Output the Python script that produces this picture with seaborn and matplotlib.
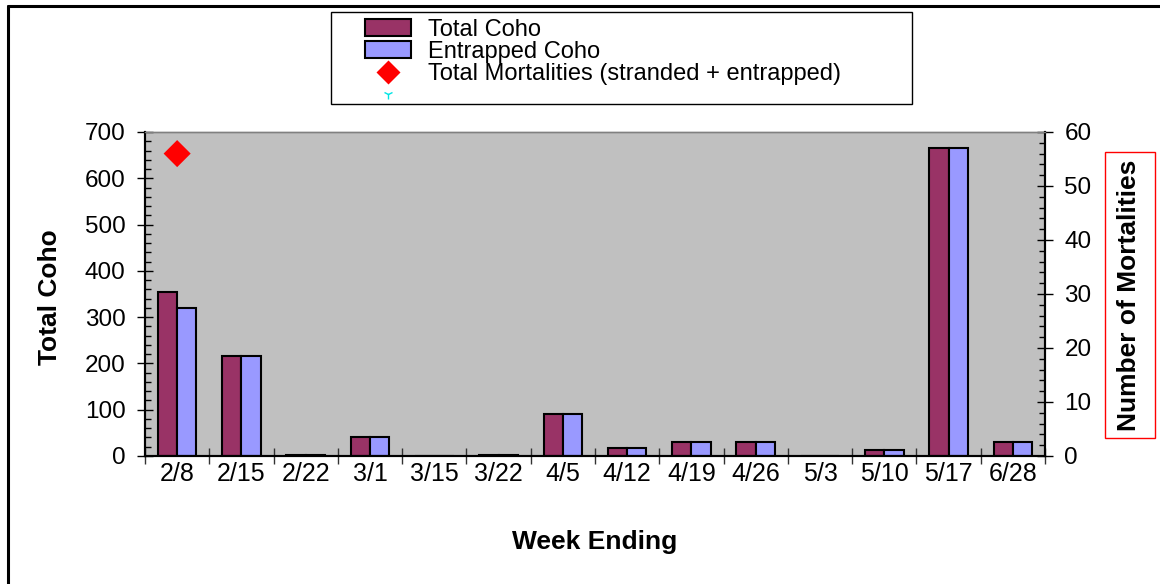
import numpy as np
import pandas as pd
import seaborn as sns
import matplotlib.pyplot as plt
from matplotlib.lines import Line2D
from matplotlib.patches import Patch, Rectangle
from matplotlib.ticker import MultipleLocator

weeks = ['2/8', '2/15', '2/22', '3/1', '3/15', '3/22', '4/5', '4/12', '4/19',
         '4/26', '5/3', '5/10', '5/17', '6/28']
total_coho = [354, 216, 3, 42, 0, 2, 91, 17, 30, 30, 0, 12, 665, 30]
entrapped_coho = [320, 216, 3, 42, 0, 2, 91, 17, 30, 30, 0, 12, 665, 30]
mortalities = [56, np.nan, np.nan, np.nan, np.nan, np.nan, np.nan, np.nan,
               np.nan, np.nan, np.nan, np.nan, np.nan, np.nan]

sns.set_theme(style="white", rc={'text.color': 'black', 'axes.labelcolor': 'black',
                                 'xtick.color': 'black', 'ytick.color': 'black'})
plt.rcParams['font.family'] = ['Liberation Sans', 'DejaVu Sans']

bars = pd.DataFrame({
    'Week': weeks * 2,
    'Count': total_coho + entrapped_coho,
    'Series': ['Total Coho'] * len(weeks) + ['Entrapped Coho'] * len(weeks),
})
morts = pd.DataFrame({'pos': np.arange(len(weeks)), 'Mortalities': mortalities})

colors = {'Total Coho': '#993366', 'Entrapped Coho': '#9999FF'}

fig = plt.figure(figsize=(11.6, 5.84), dpi=100)
ax = fig.add_axes([145 / 1160, 128 / 584, 900 / 1160, 324 / 584])
ax.set_facecolor('#C0C0C0')

sns.barplot(data=bars, x='Week', y='Count', hue='Series', palette=colors,
            width=0.6, gap=0, saturation=1, edgecolor='black', linewidth=1.5,
            legend=False, ax=ax)

ax2 = ax.twinx()
sns.scatterplot(data=morts, x='pos', y='Mortalities', marker='D', s=190,
                color='#FF0000', edgecolor='none', legend=False, ax=ax2)

# left axis
ax.set_ylim(0, 700)
ax.yaxis.set_major_locator(MultipleLocator(100))
ax.yaxis.set_minor_locator(MultipleLocator(20))
ax.tick_params(axis='y', which='major', direction='inout', length=12, width=1,
               pad=8, labelsize=17.5, left=True)
ax.tick_params(axis='y', which='minor', direction='in', length=4, width=1, left=True)

# right axis
ax2.set_ylim(0, 60)
ax2.yaxis.set_major_locator(MultipleLocator(10))
ax2.yaxis.set_minor_locator(MultipleLocator(2))
ax2.tick_params(axis='y', which='major', direction='inout', length=12, width=1,
                pad=8, labelsize=17.5, right=True)
ax2.tick_params(axis='y', which='minor', direction='in', length=4, width=1, right=True)

# x axis: ticks between categories, labels at centres
ax.set_xlim(-0.5, len(weeks) - 0.5)
ax.set_xticks(np.arange(-0.5, len(weeks), 1))
ax.set_xticklabels([])
ax.set_xticks(np.arange(len(weeks)), minor=True)
ax.set_xticklabels(weeks, minor=True)
ax.tick_params(axis='x', which='major', direction='inout', length=12, width=1,
               bottom=True, color='#333333')
ax.tick_params(axis='x', which='minor', length=0, pad=4, labelsize=18)
ax2.set_xlim(-0.5, len(weeks) - 0.5)
ax2.set_xlabel('')

for a in (ax, ax2):
    for s in a.spines.values():
        s.set_visible(True)
        s.set_color('black')
        s.set_linewidth(1.5)
    a.spines['top'].set_color('#808080')
    a.spines['top'].set_linewidth(1)
    a.grid(False)

ax.set_xlabel('Week Ending', fontsize=19, fontweight='bold')
ax.xaxis.set_label_coords(0.5, -0.228)
ax.set_ylabel('Total Coho', fontsize=19, fontweight='bold')
ax.yaxis.set_label_coords(-0.092, 0.49)
ax2.set_ylabel('')

fig.text(1129 / 1160, 0.495, 'Number of Mortalities', rotation=90,
         ha='center', va='center', fontsize=19, fontweight='bold')
fig.patches.append(Rectangle((1105 / 1160, 146 / 584), 50 / 1160, 286 / 584,
                             transform=fig.transFigure, fill=False,
                             edgecolor='#FF0000', linewidth=1))

# legend box
fig.patches.append(Rectangle((331 / 1160, 480 / 584), 581 / 1160, 92 / 584,
                             transform=fig.transFigure, facecolor='white',
                             edgecolor='black', linewidth=1, zorder=0))
handles = [
    Patch(facecolor=colors['Total Coho'], edgecolor='black', linewidth=1.5),
    Patch(facecolor=colors['Entrapped Coho'], edgecolor='black', linewidth=1.5),
    Line2D([], [], linestyle='none', marker='D', markersize=12,
           markerfacecolor='#FF0000', markeredgecolor='none'),
    Line2D([], [], linestyle='none', marker='1', markersize=7, color='#00E5E5'),
]
labels = ['Total Coho', 'Entrapped Coho', 'Total Mortalities (stranded + entrapped)', '']
fig.legend(handles, labels, loc='upper left', bbox_to_anchor=(365 / 1160, 1 - 19 / 584),
           frameon=False, fontsize=17, borderpad=0, borderaxespad=0,
           handlelength=1.95, handleheight=0.7, handletextpad=0.7, labelspacing=0)

# outer chart frame
fig.add_artist(Line2D([8 / 1160, 1], [1 - 6 / 584, 1 - 6 / 584],
                      transform=fig.transFigure, color='black', linewidth=2.2))
fig.add_artist(Line2D([8 / 1160, 8 / 1160], [0, 1 - 6 / 584],
                      transform=fig.transFigure, color='black', linewidth=2.2))

fig.savefig('out.png', dpi=100)
